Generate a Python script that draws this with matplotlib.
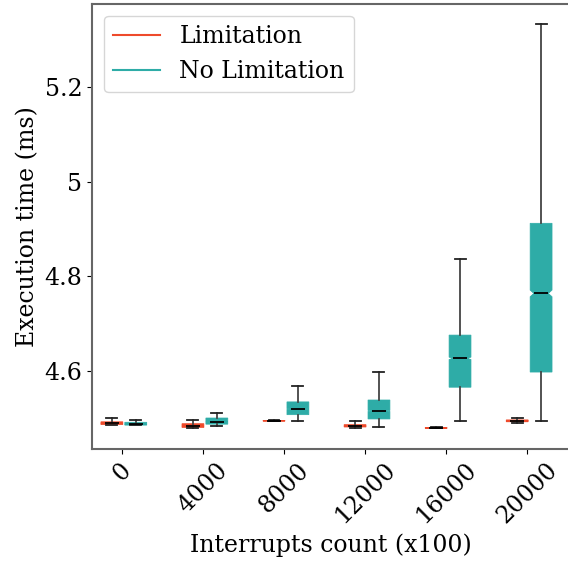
import numpy as np
import matplotlib
matplotlib.use('Agg')
import matplotlib.pyplot as plt
from matplotlib.ticker import FuncFormatter
from matplotlib.lines import Line2D

plt.rcParams['font.family'] = 'DejaVu Serif'

counts = ['0', '4000', '8000', '12000', '16000', '20000']

# Limitation: whisker low, q1, median, q3, whisker high
lim_lo = [4.486, 4.480, 4.494, 4.480, 4.479, 4.490]
lim_q1 = [4.487, 4.481, 4.4945, 4.482, 4.4795, 4.493]
lim_med = [4.490, 4.484, 4.495, 4.484, 4.480, 4.495]
lim_q3 = [4.493, 4.489, 4.4955, 4.487, 4.4805, 4.497]
lim_hi = [4.500, 4.497, 4.496, 4.494, 4.481, 4.501]

# No Limitation
nol_lo = [4.486, 4.484, 4.495, 4.482, 4.495, 4.495]
nol_q1 = [4.486, 4.488, 4.508, 4.499, 4.566, 4.598]
nol_med = [4.488, 4.493, 4.520, 4.516, 4.627, 4.764]
nol_q3 = [4.492, 4.501, 4.535, 4.539, 4.676, 4.912]
nol_hi = [4.497, 4.512, 4.568, 4.598, 4.836, 5.333]

red = '#ee4a2b'
teal = '#2eaca7'
W = 0.27


def make_stats(lo, q1, med, q3, hi):
    stats = []
    for a, b, c, d, e in zip(lo, q1, med, q3, hi):
        # notch half height as matplotlib would give it for n=5000
        half = 1.57 * (d - b) / np.sqrt(5000)
        stats.append(dict(whislo=a, q1=b, med=c, q3=d, whishi=e,
                          cilo=c - half, cihi=c + half, fliers=[]))
    return stats


fig = plt.figure(figsize=(5.68, 5.61), dpi=100)
ax = fig.add_axes([0.162, 0.2, 0.842, 0.793])

x = np.arange(len(counts))
for stats, pos, col in [(make_stats(lim_lo, lim_q1, lim_med, lim_q3, lim_hi), x - 0.125, red),
                        (make_stats(nol_lo, nol_q1, nol_med, nol_q3, nol_hi), x + 0.17, teal)]:
    bp = ax.bxp(stats, positions=pos, widths=W, patch_artist=True, shownotches=True,
                showfliers=False,
                boxprops=dict(facecolor=col, edgecolor=col, linewidth=0.5),
                whiskerprops=dict(color='#444444', linewidth=1.3),
                capprops=dict(color='#222222', linewidth=1.3),
                medianprops=dict(color='black', linewidth=1.3),
                manage_ticks=False)
    # shallower notches than the matplotlib default
    for box, med, p in zip(bp['boxes'], bp['medians'], pos):
        v = box.get_path().vertices
        v[3, 0] = p + W * 0.33
        v[8, 0] = p - W * 0.33
        med.set_xdata([p - W * 0.33, p + W * 0.33])

ax.set_xticks(x)
ax.set_xticklabels(counts, rotation=45, fontsize=17)
ax.set_xlim(-0.37, 5.53)
ax.set_ylim(4.436, 5.375)
ax.set_yticks([4.6, 4.8, 5.0, 5.2])
ax.yaxis.set_major_formatter(FuncFormatter(lambda v, p: '%g' % v))
ax.tick_params(axis='y', labelsize=17)
ax.set_xlabel('Interrupts count (x100)', fontsize=17)
ax.set_ylabel('Execution time (ms)', fontsize=17)

for s in ax.spines.values():
    s.set_color('#666666')
    s.set_linewidth(1.5)

handles = [Line2D([], [], color=red, lw=1.5), Line2D([], [], color=teal, lw=1.5)]
ax.legend(handles, ['Limitation', 'No Limitation'], loc='upper left', fontsize=17)

fig.savefig('out.png', dpi=100)
